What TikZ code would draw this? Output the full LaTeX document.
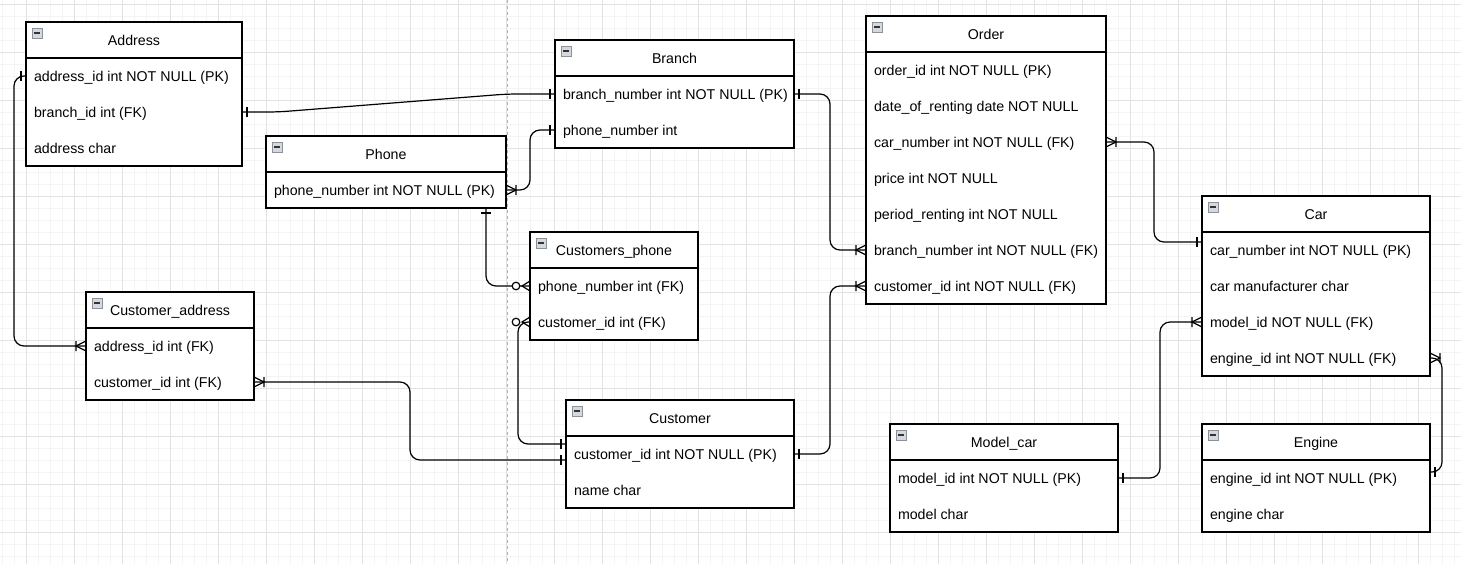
\documentclass[tikz,border=0pt]{standalone}
\usepackage{fontspec}
\setmainfont{Liberation Sans}
\usetikzlibrary{decorations.markings}
\definecolor{gridlight}{HTML}{F4F4F4}
\definecolor{griddark}{HTML}{E2E2E2}
\definecolor{iconfill}{HTML}{D5D8DD}
\definecolor{iconline}{HTML}{8A9199}
\tikzset{%
  minorgrid/.style = {gridlight, line width=1pt, step=12pt},
  majorgrid/.style = {griddark, line width=1pt, step=48pt},
  guide/.style = {black!30, line width=0.8pt, dash pattern=on 3pt off 3pt},
  tablebox/.style = {draw, fill=white, line width=1.2pt, inner sep=0pt,
        outer sep=0pt, anchor=north west},
  tablehead/.style = {draw, fill=white, line width=1.2pt, minimum width=#1,
        minimum height=36pt, inner sep=0pt, outer sep=0pt, anchor=north west,
        text height=10pt, text depth=0pt, font=\fontsize{14.2pt}{17pt}\selectfont,
        path picture={
          \draw[iconline, fill=iconfill, line width=0.8pt]
            ([shift={(6pt,-6pt)}]path picture bounding box.north west) rectangle ++(10pt,-10pt);
          \draw[black!80, line width=1.6pt]
            ([shift={(8pt,-11pt)}]path picture bounding box.north west) -- ++(6pt,0pt);}},
  tablerow/.style = {anchor=north west, minimum height=36pt, inner xsep=8pt,
        inner ysep=0pt, outer sep=0pt, text height=10pt, text depth=0pt,
        font=\fontsize{14.2pt}{17pt}\selectfont},
  erline/.style = {line width=1.2pt, rounded corners=10pt},
  one start/.style = {postaction={decorate, decoration={markings,
        mark=at position 0 with {\draw[sharp corners] (5pt,-5pt) -- (5pt,5pt);}}}},
  one end/.style = {postaction={decorate, decoration={markings,
        mark=at position 1 with {\draw[sharp corners] (-5pt,-5pt) -- (-5pt,5pt);}}}},
  many start/.style = {postaction={decorate, decoration={markings,
        mark=at position 0 with {\draw[sharp corners] (0pt,5pt) -- (10pt,0pt) -- (0pt,-5pt)
          (10pt,-5pt) -- (10pt,5pt);}}}},
  many end/.style = {postaction={decorate, decoration={markings,
        mark=at position 1 with {\draw[sharp corners] (0pt,5pt) -- (-10pt,0pt) -- (0pt,-5pt)
          (-10pt,-5pt) -- (-10pt,5pt);}}}},
  zero many start/.style = {postaction={decorate, decoration={markings,
        mark=at position 0 with {\draw[sharp corners] (0pt,5pt) -- (8pt,0pt) -- (0pt,-5pt);
          \draw[fill=white] (14pt,0pt) circle (3.8pt);}}}},
  zero many end/.style = {postaction={decorate, decoration={markings,
        mark=at position 1 with {\draw[sharp corners] (0pt,5pt) -- (-8pt,0pt) -- (0pt,-5pt);
          \draw[fill=white] (-14pt,0pt) circle (3.8pt);}}}}
}

\begin{document}
\begin{tikzpicture}[x=1pt, y=-1pt]
  \useasboundingbox[fill=white] (0,0) rectangle (1461,563);
  % background grid
  \draw[minorgrid, xshift=2pt, yshift=-4pt] (-12pt,-576pt) grid (1464pt,12pt);
  \draw[majorgrid, xshift=26pt, yshift=-4pt] (-48pt,-576pt) grid (1440pt,12pt);
  \draw[guide] (507,0) -- (507,563);

  % Address
  \node[tablebox, minimum width=216pt, minimum height=144pt] (addr) at (26,22) {};
  \node[tablehead=216pt] (addr-head) at (addr.north west) {Address};
  \node[tablerow] (addr-id) at (addr-head.south west) {address\_id int NOT NULL (PK)};
  \node[tablerow] (addr-branch) at (addr-id.south west) {branch\_id int (FK)};
  \node[tablerow] (addr-char) at (addr-branch.south west) {address char};

  % Branch
  \node[tablebox, minimum width=239pt, minimum height=108pt] (br) at (555,40) {};
  \node[tablehead=239pt] (br-head) at (br.north west) {Branch};
  \node[tablerow] (br-number) at (br-head.south west) {branch\_number int NOT NULL (PK)};
  \node[tablerow] (br-phone) at (br-number.south west) {phone\_number int};

  % Phone
  \node[tablebox, minimum width=240pt, minimum height=72pt] (ph) at (266,136) {};
  \node[tablehead=240pt] (ph-head) at (ph.north west) {Phone};
  \node[tablerow] (ph-number) at (ph-head.south west) {phone\_number int NOT NULL (PK)};

  % Customers_phone
  \node[tablebox, minimum width=168pt, minimum height=108pt] (cph) at (530,232) {};
  \node[tablehead=168pt] (cph-head) at (cph.north west) {Customers\_phone};
  \node[tablerow] (cph-phone) at (cph-head.south west) {phone\_number int (FK)};
  \node[tablerow] (cph-cust) at (cph-phone.south west) {customer\_id int (FK)};

  % Customer_address
  \node[tablebox, minimum width=168pt, minimum height=108pt] (ca) at (86,292) {};
  \node[tablehead=168pt] (ca-head) at (ca.north west) {Customer\_address};
  \node[tablerow] (ca-addr) at (ca-head.south west) {address\_id int (FK)};
  \node[tablerow] (ca-cust) at (ca-addr.south west) {customer\_id int (FK)};

  % Customer
  \node[tablebox, minimum width=228pt, minimum height=108pt] (cu) at (566,400) {};
  \node[tablehead=228pt] (cu-head) at (cu.north west) {Customer};
  \node[tablerow] (cu-id) at (cu-head.south west) {customer\_id int NOT NULL (PK)};
  \node[tablerow] (cu-name) at (cu-id.south west) {name char};

  % Order
  \node[tablebox, minimum width=240pt, minimum height=288pt] (ord) at (866,16) {};
  \node[tablehead=240pt] (ord-head) at (ord.north west) {Order};
  \node[tablerow] (ord-id) at (ord-head.south west) {order\_id int NOT NULL (PK)};
  \node[tablerow] (ord-date) at (ord-id.south west) {date\_of\_renting date NOT NULL};
  \node[tablerow] (ord-car) at (ord-date.south west) {car\_number int NOT NULL (FK)};
  \node[tablerow] (ord-price) at (ord-car.south west) {price int NOT NULL};
  \node[tablerow] (ord-period) at (ord-price.south west) {period\_renting int NOT NULL};
  \node[tablerow] (ord-branch) at (ord-period.south west) {branch\_number int NOT NULL (FK)};
  \node[tablerow] (ord-cust) at (ord-branch.south west) {customer\_id int NOT NULL (FK)};

  % Car
  \node[tablebox, minimum width=228pt, minimum height=180pt] (car) at (1202,196) {};
  \node[tablehead=228pt] (car-head) at (car.north west) {Car};
  \node[tablerow] (car-number) at (car-head.south west) {car\_number int NOT NULL (PK)};
  \node[tablerow] (car-maker) at (car-number.south west) {car manufacturer char};
  \node[tablerow] (car-model) at (car-maker.south west) {model\_id NOT NULL (FK)};
  \node[tablerow] (car-engine) at (car-model.south west) {engine\_id int NOT NULL (FK)};

  % Model_car
  \node[tablebox, minimum width=228pt, minimum height=108pt] (mod) at (890,424) {};
  \node[tablehead=228pt] (mod-head) at (mod.north west) {Model\_car};
  \node[tablerow] (mod-id) at (mod-head.south west) {model\_id int NOT NULL (PK)};
  \node[tablerow] (mod-name) at (mod-id.south west) {model char};

  % Engine
  \node[tablebox, minimum width=228pt, minimum height=108pt] (eng) at (1202,424) {};
  \node[tablehead=228pt] (eng-head) at (eng.north west) {Engine};
  \node[tablerow] (eng-id) at (eng-head.south west) {engine\_id int NOT NULL (PK)};
  \node[tablerow] (eng-name) at (eng-id.south west) {engine char};

  \coordinate (eng-in) at ([yshift=6pt]eng-id.west);

  % relations
  \draw[erline, one start, many end] (addr-id.west) -- ++(-12,0) |- (ca-addr.west);
  \draw[erline, one start, one end] (addr-branch -| addr.east) -- ++(36,0)
        -- ([xshift=-48pt]br-number.west) -- (br-number.west);
  \draw[erline, one start, many end] (br-phone.west) -- ++(-25,0) |- (ph-number -| ph.east);
  \draw[erline, one start, many end] (br-number -| br.east) -- ++(36,0) |- (ord-branch.west);
  \draw[erline, one start, zero many end] ([xshift=-20pt]ph.south east) |- (cph-phone.west);
  \draw[erline, zero many start, one end] (cph-cust.west) -- ++(-12,0) |- ([yshift=10pt]cu-id.west);
  \draw[erline, many start, one end] (ca-cust -| ca.east) -- ++(156,0) |- ([yshift=-6pt]cu-id.west);
  \draw[erline, one start, many end] (cu-id -| cu.east) -- ++(36,0) |- (ord-cust.west);
  \draw[erline, many start, one end] (ord-car -| ord.east) -- ++(48,0) |- ([yshift=8pt]car-number.west);
  \draw[erline, one start, many end] (mod-id -| mod.east) -- ++(42,0) |- (car-model.west);
  \draw[erline, many start, one end] (car-engine -| car.east) -- ++(12,0) |- (eng-in -| eng.east);
\end{tikzpicture}
\end{document}
